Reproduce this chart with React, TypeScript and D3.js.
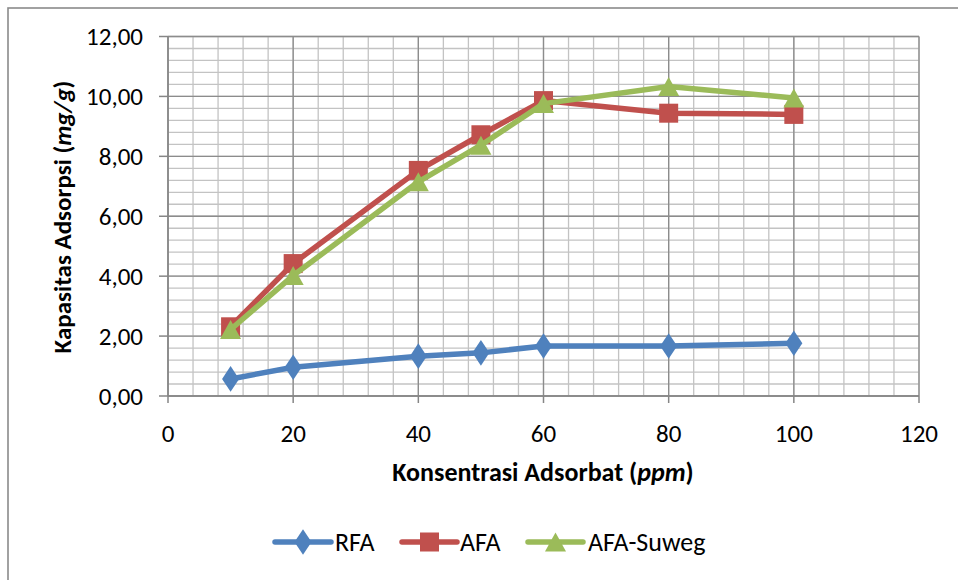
import React from "react";
import * as d3 from "d3";

const xValues = [10, 20, 40, 50, 60, 80, 100];
const rfa = [0.57, 0.96, 1.33, 1.44, 1.67, 1.67, 1.76];
const afa = [2.31, 4.42, 7.53, 8.72, 9.86, 9.44, 9.4];
const afaSuweg = [2.22, 4.02, 7.15, 8.37, 9.76, 10.33, 9.95];
const seriesNames = ["RFA", "AFA", "AFA-Suweg"];
const seriesColors = ["#4F81BD", "#C0504D", "#9BBB59"];
const xTicks = [0, 20, 40, 60, 80, 100, 120];
const yTicks = [0, 2, 4, 6, 8, 10, 12];

const W = 958;
const H = 580;
const left = 168;
const right = 919;
const top = 36.5;
const bottom = 396;
const FONT = "Carlito, Calibri, Lato, sans-serif";

function Marker({ kind, x, y, color }: { kind: string; x: number; y: number; color: string }) {
  if (kind === "diamond") {
    const sym = d3.symbol().type(d3.symbolDiamond).size(190)();
    return <path d={sym as string} transform={`translate(${x},${y}) scale(1.15,1)`} fill={color} />;
  }
  if (kind === "square") {
    return <rect x={x - 9.5} y={y - 9.5} width={19} height={19} fill={color} />;
  }
  const h = 19;
  const w = 21;
  return (
    <path
      d={`M${x},${y - h / 2} L${x + w / 2},${y + h / 2} L${x - w / 2},${y + h / 2} Z`}
      fill={color}
    />
  );
}

export default function App() {
  const xs = d3.scaleLinear().domain([0, 120]).range([left, right]);
  const ys = d3.scaleLinear().domain([0, 12]).range([bottom, top]);
  const allSeries = [rfa, afa, afaSuweg];
  const kinds = ["diamond", "square", "triangle"];
  const line = d3
    .line<number>()
    .x((_, i) => xs(xValues[i]))
    .y((d) => ys(d));

  const minorX = d3.range(0, 120.001, 4);
  const minorY = d3.range(0, 12.001, 0.4);

  const legendItems = [
    { x0: 275, x1: 331, tx: 335 },
    { x0: 402, x1: 457, tx: 460 },
    { x0: 528, x1: 583, tx: 588 },
  ];
  const legendY = 542;

  return (
    <svg
      width={W}
      height={H}
      style={{ position: "absolute", left: 0, top: 0, background: "#fff" }}
      fontFamily={FONT}
    >
      <rect x={8} y={8} width={W} height={H} fill="#fff" stroke="#8a8a8a" strokeWidth={1.6} />
      {/* minor grid */}
      {minorX.map((v, i) => (
        <line key={"mx" + i} x1={xs(v)} x2={xs(v)} y1={top} y2={bottom} stroke="#c3c3c3" strokeWidth={1.3} />
      ))}
      {minorY.map((v, i) => (
        <line key={"my" + i} x1={left} x2={right} y1={ys(v)} y2={ys(v)} stroke="#c3c3c3" strokeWidth={1.3} />
      ))}
      {/* major grid */}
      {xTicks.map((v) => (
        <line key={"Mx" + v} x1={xs(v)} x2={xs(v)} y1={top} y2={bottom} stroke="#8c8c8c" strokeWidth={1.3} />
      ))}
      {yTicks.map((v) => (
        <line key={"My" + v} x1={left} x2={right} y1={ys(v)} y2={ys(v)} stroke="#8c8c8c" strokeWidth={1.3} />
      ))}
      {/* axes */}
      <line x1={left} x2={left} y1={top} y2={bottom} stroke="#868686" strokeWidth={1.5} />
      <line x1={left} x2={right} y1={bottom} y2={bottom} stroke="#868686" strokeWidth={1.5} />
      {yTicks.map((v) => (
        <g key={"yt" + v}>
          <line x1={left - 9} x2={left} y1={ys(v)} y2={ys(v)} stroke="#868686" strokeWidth={1.5} />
          <text x={143} y={ys(v)} dy="0.35em" textAnchor="end" fontSize={25} fill="#000">
            {d3.format(".2f")(v).replace(".", ",")}
          </text>
        </g>
      ))}
      {xTicks.map((v) => (
        <g key={"xt" + v}>
          <line x1={xs(v)} x2={xs(v)} y1={bottom} y2={bottom + 7} stroke="#868686" strokeWidth={1.5} />
          <text x={xs(v)} y={433} dy="0.35em" textAnchor="middle" fontSize={25} fill="#000">
            {v}
          </text>
        </g>
      ))}
      {/* axis titles */}
      <text
        transform={`translate(62,217) rotate(-90)`}
        textAnchor="middle"
        dy="0.35em"
        fontSize={25}
        fontWeight="bold"
        fill="#000"
      >
        Kapasitas Adsorpsi (<tspan fontStyle="italic">mg/g</tspan>)
      </text>
      <text x={543} y={472} dy="0.35em" textAnchor="middle" fontSize={26} fontWeight="bold" fill="#000">
        Konsentrasi Adsorbat (<tspan fontStyle="italic">ppm</tspan>)
      </text>
      {/* series */}
      {allSeries.map((s, si) => (
        <g key={"s" + si}>
          <path d={line(s) as string} fill="none" stroke={seriesColors[si]} strokeWidth={5.5} strokeLinejoin="round" />
          {s.map((v, i) => (
            <Marker key={i} kind={kinds[si]} x={xs(xValues[i])} y={ys(v)} color={seriesColors[si]} />
          ))}
        </g>
      ))}
      {/* legend */}
      {legendItems.map((it, i) => (
        <g key={"lg" + i}>
          <line x1={it.x0} x2={it.x1} y1={legendY} y2={legendY} stroke={seriesColors[i]} strokeWidth={5.5} strokeLinecap="round" />
          <Marker kind={kinds[i]} x={(it.x0 + it.x1) / 2} y={legendY} color={seriesColors[i]} />
          <text x={it.tx} y={legendY} dy="0.35em" fontSize={26} fill="#000">
            {seriesNames[i]}
          </text>
        </g>
      ))}
    </svg>
  );
}
